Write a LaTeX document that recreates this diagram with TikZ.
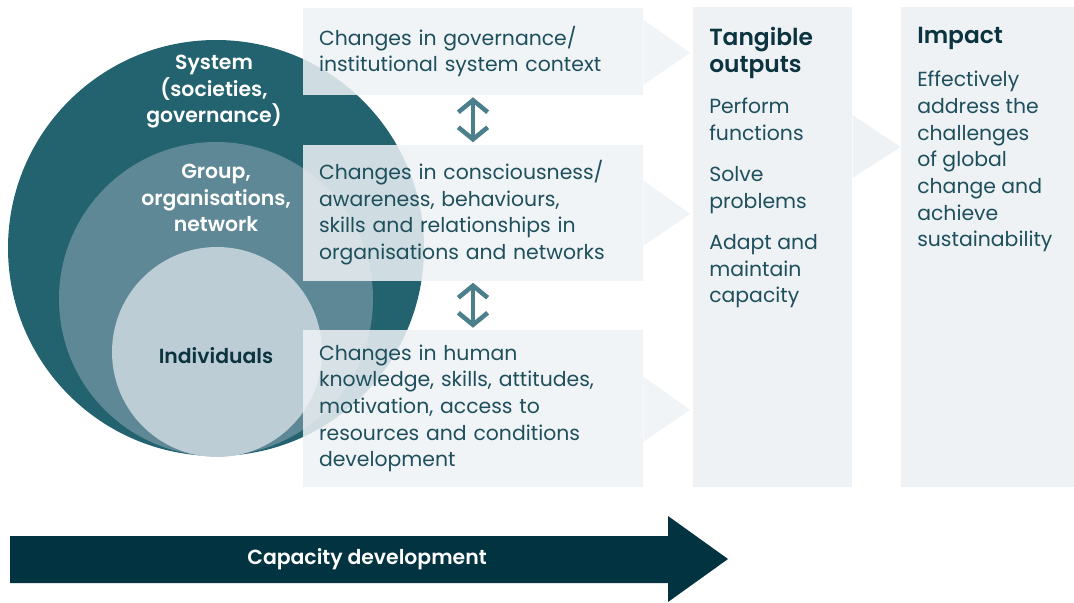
\documentclass[tikz,border=0pt]{standalone}
\usepackage{fontspec}
\setmainfont{Poppins}[BoldFont={Poppins SemiBold}]
\usetikzlibrary{arrows.meta,positioning}
\definecolor{sysc}{HTML}{23626F}
\definecolor{grpc}{HTML}{5F8896}
\definecolor{indc}{HTML}{BCCDD6}
\definecolor{boxc}{HTML}{EEF2F5}
\definecolor{txtc}{HTML}{1E4F5C}
\definecolor{headc}{HTML}{0B3440}
\definecolor{linkc}{HTML}{4B7F8B}
\definecolor{capc}{HTML}{023341}
\begin{document}
\begin{tikzpicture}[x=0.75pt,y=-0.75pt,
  body/.style={font=\fontsize{15.3}{20}\selectfont,text=txtc,align=left,inner sep=0pt},
  head/.style={font=\bfseries\fontsize{17.5}{20.3}\selectfont,text=headc,align=left,inner sep=0pt},
  ring/.style={font=\bfseries\fontsize{15.3}{19.9}\selectfont,align=center,inner sep=0pt},
  change/.style={body,fill=boxc,fill opacity=0.85,text opacity=1,minimum height=#1,text width=231pt,inner xsep=12pt,inner ysep=0pt},
  tip/.style={fill=boxc,fill opacity=0.85},
  col/.style={fill=boxc,minimum width=#1,minimum height=360pt,inner sep=0pt,anchor=north west},
  link/.style={linkc,line width=3.4pt,shorten <=1.5pt,shorten >=1.5pt,{Straight Barb[length=9pt,width=22pt]}-{Straight Barb[length=9pt,width=22pt]}}]
\useasboundingbox (0,0) rectangle (1074,603);
% levels
\fill[sysc] (216,248) circle (208);
\fill[grpc] (216,299) circle (157);
\fill[indc] (217,352) circle (105);
\node (sys) [ring,text=white] at (214,92) {System\\(societies,\\governance)};
\node (grp) [ring,text=white] at (216,198) {Group,\\organisations,\\network};
\node (ind) [ring,text=headc] at (216,356) {Individuals};
% changes
\node (gov) [change=65.25pt] at (473,51.5) {Changes in governance/\\institutional system context};
\node (org) [change=102pt] at (473,212.5) {Changes in consciousness/\\awareness, behaviours,\\skills and relationships in\\organisations and networks};
\node (hum) [change=117.75pt] at (473,408.5) {Changes in human\\knowledge, skills, attitudes,\\motivation, access to\\resources and conditions\\development};
\foreach \b in {gov,org,hum}
  \fill[tip] ([yshift=24pt]\b.east) -- ([xshift=35.25pt,yshift=-1pt]\b.east) -- ([yshift=-25pt]\b.east) -- cycle;
\draw[link] (gov.south) -- (org.north);
\draw[link] (org.south) -- (hum.north);
% outputs and impact
\node (outputs) [col=119.25pt] at (693,7) {};
\node (impact) [col=129.75pt] at (901,7) {};
\fill[boxc] ([yshift=-81pt]outputs.north east) -- ([xshift=36pt,yshift=-105pt]outputs.north east) -- ([yshift=-128.25pt]outputs.north east) -- cycle;
\node (outh) [head,anchor=north west] at (709,27) {Tangible\\outputs};
\node (out1) [body,anchor=north west] at (709,98) {Perform\\functions};
\node (out2) [body,anchor=north west] at (709,166) {Solve\\problems};
\node (out3) [body,anchor=north west] at (709,234) {Adapt and\\maintain\\capacity};
\node (imph) [head,anchor=north west] at (917,27) {Impact};
\node (imp1) [body,anchor=north west] at (917,71) {Effectively\\address the\\challenges\\of global\\change and\\achieve\\sustainability};
% capacity development
\fill[capc] (10,536) -- (668,536) -- (668,516) -- (728,559) -- (668,602) -- (668,583) -- (10,583) -- cycle;
\node (cap) [ring,text=white] at (367,559) {Capacity development};
\end{tikzpicture}
\end{document}
